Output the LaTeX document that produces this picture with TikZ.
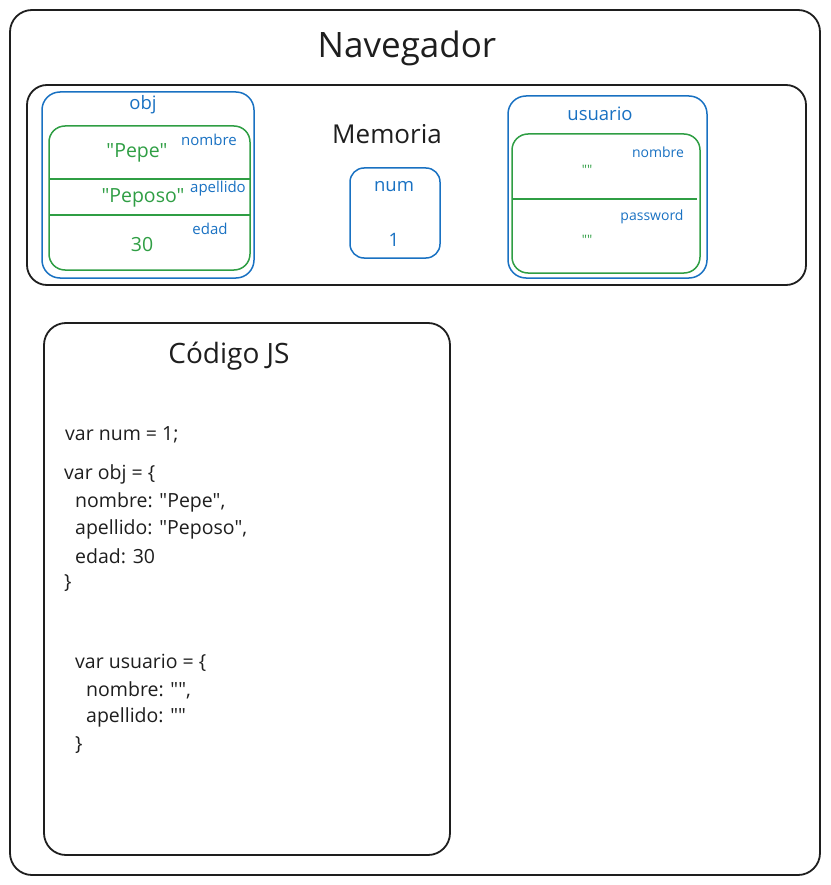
\documentclass[tikz,border=0pt]{standalone}
\usepackage{fontspec}
\setmainfont{Open Sans}[Ligatures=TeXOff]
\definecolor{azul}{HTML}{1971C2}
\definecolor{verde}{HTML}{2F9E44}
\definecolor{tinta}{HTML}{1E1E1E}
\begin{document}
\begin{tikzpicture}
      [x=1pt,y=-1pt,every node/.style={inner sep=0pt, text=tinta},
       caja/.style={draw=tinta, line width=1.8pt, rounded corners=22pt},
       cajaazul/.style={draw=azul, line width=1.5pt, rounded corners=18pt},
       cajaverde/.style={draw=verde, line width=1.5pt, rounded corners=16pt},
       titulo/.style={font=\fontsize{35}{42}\selectfont},
       subtitulo/.style={font=\fontsize{26}{31}\selectfont},
       codigo/.style={anchor=west, font=\fontsize{19.5}{23}\selectfont},
       valor/.style={text=verde, font=\fontsize{19.5}{23}\selectfont},
       campo/.style={text=azul, font=\fontsize{15}{18}\selectfont},
       nombrevar/.style={text=azul, font=\fontsize{18.5}{22}\selectfont}]
        \useasboundingbox (0,0) rectangle (830,885);

        % navegador y memoria
        \draw[caja] (10,10) rectangle (820,875);
        \node[titulo] (nav) at (407,48) {Navegador};
        \draw[caja, rounded corners=20pt] (27,85) rectangle (806,285);
        \node[subtitulo] (mem) at (387,134) {Memoria};

        % obj
        \draw[cajaazul] (42,92) rectangle (254,278);
        \draw[cajaverde] (49,126) rectangle (250,270);
        \draw[verde, line width=1.7pt] (49,179) -- (251,179);
        \draw[verde, line width=1.7pt] (49,215) -- (251,215);
        \node[nombrevar] (obj) at (143,105) {obj};
        \node[valor] (v1) at (137,153) {"Pepe"};
        \node[valor] (v2) at (143,198) {"Peposo"};
        \node[valor] (v3) at (142,245) {30};
        \node[campo] (f1) at (209,140) {nombre};
        \node[campo] (f2) at (218,189) {apellido};
        \node[campo] (f3) at (210,229) {edad};

        % num
        \draw[cajaazul, rounded corners=14pt] (350,168) rectangle (440,258);
        \node[nombrevar] (num) at (394,187) {num};
        \node[nombrevar] (n1) at (394,240) {1};

        % usuario
        \draw[cajaazul] (508,96) rectangle (707,278);
        \draw[cajaverde] (512,134) rectangle (700,273);
        \draw[verde, line width=2.2pt] (512,199) -- (697,199);
        \node[nombrevar] (usu) at (600,114) {usuario};
        \node[campo, font=\fontsize{14}{17}\selectfont] (u1) at (658,152) {nombre};
        \node[campo, font=\fontsize{14}{17}\selectfont] (u2) at (652,217) {password};
        \node[valor, font=\fontsize{13}{16}\selectfont] (w1) at (587,170) {""};
        \node[valor, font=\fontsize{13}{16}\selectfont] (w2) at (587,240) {""};

        % codigo JS
        \draw[caja] (44,323) rectangle (450,855);
        \node[subtitulo, font=\fontsize{28}{34}\selectfont] (js) at (229,356) {Código JS};
        \node[codigo] (c1) at (65,435) {var num = 1;};
        \node[codigo] (c2) at (64,474) {var obj = \{};
        \node[codigo] (c3) at (75,502) {nombre: "Pepe",};
        \node[codigo] (c4) at (75,529) {apellido: "Peposo",};
        \node[codigo] (c5) at (75,556) {edad: 30};
        \node[codigo] (c6) at (64,583) {\}};
        \node[codigo] (c7) at (75,663) {var usuario = \{};
        \node[codigo] (c8) at (86,690) {nombre: "",};
        \node[codigo] (c9) at (86,717) {apellido: ""};
        \node[codigo] (c10) at (75,745) {\}};
      \end{tikzpicture}
\end{document}
